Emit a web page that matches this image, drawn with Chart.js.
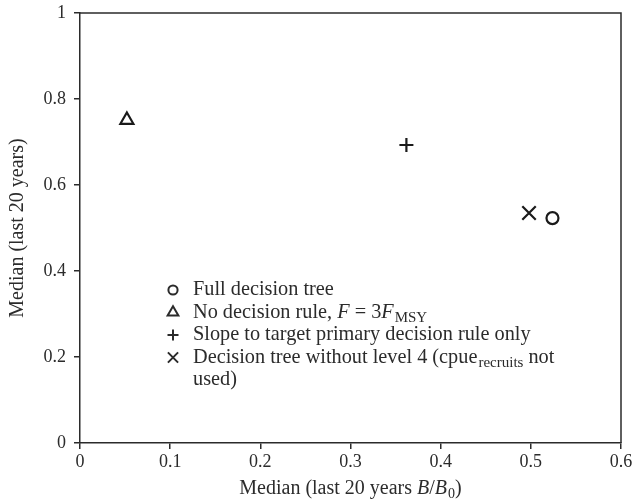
<!DOCTYPE html>
<html>
<head>
<meta charset="utf-8">
<script src="https://cdn.jsdelivr.net/npm/chart.js@4"></script>
<style>
html,body{margin:0;padding:0;background:#fff;}
#wrap{width:635px;height:503px;}
</style>
</head>
<body>
<div id="wrap"><canvas id="c" width="635" height="503"></canvas></div>
<script>
// ---- data ----
const seriesNames = ["Full decision tree", "No decision rule, F = 3F_MSY", "Slope to target primary decision rule only", "Decision tree without level 4 (cpue_recruits not used)"];
const seriesX = [0.524, 0.052, 0.362, 0.498];
const seriesY = [0.523, 0.751, 0.693, 0.535];
const seriesMarkers = ["circle", "triangle", "cross", "crossRot"];
const xTickLabels = ["0", "0.1", "0.2", "0.3", "0.4", "0.5", "0.6"];
const yTickLabels = ["0", "0.2", "0.4", "0.6", "0.8", "1"];
const xTitle = "Median (last 20 years B/B0)";
const yTitle = "Median (last 20 years)";

const FONT = "'Liberation Serif', 'Times New Roman', serif";
const INK = "#2b2b2b";
const markerRadius = {circle: 6, triangle: 7.5, cross: 7, crossRot: 9.5};
const legendMarkerRadius = {circle: 4.6, triangle: 6.2, cross: 5.5, crossRot: 7.2};

// rich legend segments: [text, style] style: n normal, i italic, s subscript
const legendRich = [
  [["Full decision tree","n"]],
  [["No decision rule, ","n"],["F","i"],[" = 3","n"],["F","i"],["MSY","s"]],
  [["Slope to target primary decision rule only","n"]],
  [["Decision tree without level 4 (cpue","n"],["recruits","s"],[" not","n"]],
  [["used)","n"]]
];
const legendMarkerRow = [0,1,2,3,-1];

function drawRich(ctx, segs, x, y, size, align) {
  const fontFor = (st) => st === "i" ? `italic ${size}px ${FONT}` : st === "s" ? `${Math.round(size*0.72)}px ${FONT}` : `${size}px ${FONT}`;
  let total = 0;
  segs.forEach(([t, st]) => { ctx.font = fontFor(st); total += ctx.measureText(t).width + (st === "s" ? 1 : 0); });
  let cx = align === "center" ? x - total/2 : x;
  ctx.textAlign = "left";
  segs.forEach(([t, st]) => {
    ctx.font = fontFor(st);
    ctx.textBaseline = "middle";
    const dy = st === "s" ? size*0.28 : 0;
    ctx.fillText(t, cx + (st === "s" ? 1 : 0), y + dy);
    cx += ctx.measureText(t).width + (st === "s" ? 1 : 0);
  });
}

const decorPlugin = {
  id: "decor",
  afterDraw(chart) {
    const ctx = chart.ctx;
    const a = chart.chartArea;
    ctx.save();
    // box top & right
    ctx.strokeStyle = INK;
    ctx.lineWidth = 1.5;
    ctx.beginPath();
    ctx.moveTo(a.left, a.top); ctx.lineTo(a.right, a.top); ctx.lineTo(a.right, a.bottom);
    ctx.stroke();
    // legend
    const lx = 173, tx = 193, y0 = 290, dy = 22.5;
    legendRich.forEach((segs, i) => {
      const y = y0 + i*dy;
      const mi = legendMarkerRow[i];
      if (mi >= 0) {
        ctx.fillStyle = "rgba(0,0,0,0)";
        ctx.strokeStyle = INK; ctx.lineWidth = 2;
        Chart.helpers.drawPoint(ctx, {pointStyle: seriesMarkers[mi], radius: legendMarkerRadius[seriesMarkers[mi]], borderWidth: 2}, lx, y);
      }
      ctx.fillStyle = INK;
      drawRich(ctx, segs, tx, y, 20.3, "left");
    });
    // x title
    ctx.fillStyle = INK;
    drawRich(ctx, [["Median (last 20 years ","n"],["B","i"],["/","n"],["B","i"],["0","s"],[")","n"]], (a.left+a.right)/2, 489, 20, "center");
    // y title
    ctx.translate(18, (a.top+a.bottom)/2);
    ctx.rotate(-Math.PI/2);
    drawRich(ctx, [[yTitle,"n"]], 0, 0, 20, "center");
    ctx.restore();
  }
};

const datasets = seriesNames.map((name, i) => ({
  label: name,
  data: [{x: seriesX[i], y: seriesY[i]}],
  pointStyle: seriesMarkers[i],
  pointRadius: markerRadius[seriesMarkers[i]],
  pointHoverRadius: markerRadius[seriesMarkers[i]],
  pointBorderWidth: 2.2,
  pointBorderColor: "#1a1a1a",
  pointBackgroundColor: "rgba(0,0,0,0)",
  showLine: false
}));

new Chart(document.getElementById("c"), {
  type: "scatter",
  data: { datasets },
  options: {
    responsive: false,
    animation: false,
    devicePixelRatio: 1,
    layout: { padding: { top: 13, right: 14, left: 0, bottom: 0 } },
    plugins: { legend: { display: false }, tooltip: { enabled: false } },
    scales: {
      x: {
        type: "linear", min: 0, max: 0.6,
        afterFit(s) { s.height = 60; s.paddingLeft = 0; s.paddingRight = 0; },
        afterBuildTicks(s) { s.ticks = xTickLabels.map(v => ({value: parseFloat(v)})); },
        ticks: { callback: (v, i) => xTickLabels[i], color: INK, font: { family: FONT, size: 18 }, padding: 2, maxRotation: 0 },
        grid: { drawOnChartArea: false, tickLength: 6, color: INK, lineWidth: 1.5 },
        border: { color: INK, width: 1.5 }
      },
      y: {
        type: "linear", min: 0, max: 1,
        afterFit(s) { s.width = 80; s.paddingTop = 0; s.paddingBottom = 0; },
        afterBuildTicks(s) { s.ticks = yTickLabels.map(v => ({value: parseFloat(v)})); },
        ticks: { callback: (v, i) => yTickLabels[i], color: INK, font: { family: FONT, size: 18 }, padding: 8 },
        grid: { drawOnChartArea: false, tickLength: 6, color: INK, lineWidth: 1.5 },
        border: { color: INK, width: 1.5 }
      }
    }
  },
  plugins: [decorPlugin]
});
</script>
</body>
</html>
